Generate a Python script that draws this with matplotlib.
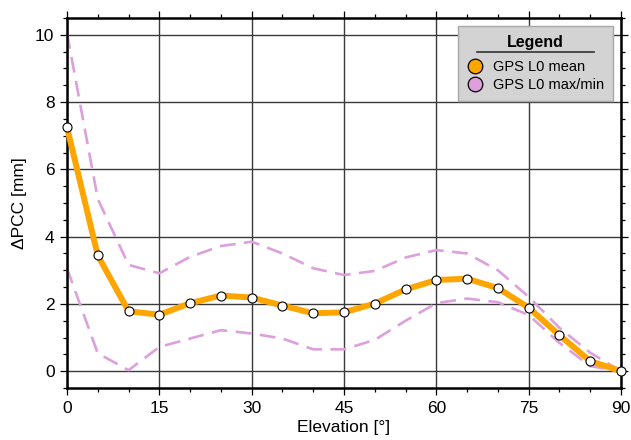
import matplotlib
matplotlib.use("Agg")
import matplotlib.pyplot as plt
from matplotlib.lines import Line2D
from matplotlib.ticker import MultipleLocator

plt.rcParams["font.family"] = ["Liberation Sans", "DejaVu Sans"]

elevation = [0, 5, 10, 15, 20, 25, 30, 35, 40, 45, 50, 55, 60, 65, 70, 75, 80, 85, 90]
pcc_mean = [7.25, 3.44, 1.78, 1.68, 2.02, 2.25, 2.19, 1.95, 1.72, 1.75, 2.01, 2.43, 2.71, 2.75, 2.47, 1.89, 1.07, 0.30, 0.0]
pcc_max = [10.05, 5.12, 3.16, 2.91, 3.40, 3.72, 3.85, 3.50, 3.06, 2.86, 2.98, 3.38, 3.60, 3.50, 3.00, 2.21, 1.29, 0.55, 0.0]
pcc_min = [3.06, 0.53, 0.03, 0.72, 0.97, 1.22, 1.12, 0.97, 0.65, 0.65, 0.93, 1.50, 2.02, 2.16, 2.05, 1.67, 0.84, 0.15, 0.0]

mean_color = "#FFA500"
range_color = "#DDA0DD"

fig = plt.figure(figsize=(6.31, 4.40), dpi=100)
ax = fig.add_axes([67 / 631, 1 - 388 / 440, 554 / 631, 370 / 440])

ax.set_xlim(0, 90)
ax.set_ylim(-0.5, 10.5)
ax.xaxis.set_major_locator(MultipleLocator(15))
ax.xaxis.set_minor_locator(MultipleLocator(5))
ax.yaxis.set_major_locator(MultipleLocator(2))
ax.yaxis.set_minor_locator(MultipleLocator(0.5))

ax.grid(True, which="major", color="#3a3a3a", linewidth=1.0, zorder=0)
ax.set_axisbelow(True)

for side in ax.spines.values():
    side.set_linewidth(1.8)
    side.set_color("black")

ax.tick_params(which="both", direction="out", top=True, right=True,
               labeltop=False, labelright=False, color="black", width=0.9)
ax.tick_params(which="major", length=5, labelsize=12.5, pad=4)
ax.tick_params(which="minor", length=3)

dash = (6, 3.2)
ax.plot(elevation, pcc_max, color=range_color, linewidth=1.9,
        linestyle=(0, dash), zorder=2, clip_on=False)
ax.plot(elevation, pcc_min, color=range_color, linewidth=1.9,
        linestyle=(0, dash), zorder=2, clip_on=False)
ax.plot(elevation, pcc_mean, color=mean_color, linewidth=4.3, zorder=3,
        solid_joinstyle="round", clip_on=False)
ax.plot(elevation, pcc_mean, linestyle="none", marker="o", markersize=6.5,
        markerfacecolor="white", markeredgecolor="black", markeredgewidth=0.8,
        zorder=4, clip_on=False)

ax.set_xlabel("Elevation [°]", fontsize=12.5, labelpad=3)
ax.set_ylabel("ΔPCC [mm]", fontsize=12.5, labelpad=6)

handles = [
    Line2D([], [], linestyle="none", marker="o", markersize=10.5,
           markerfacecolor=mean_color, markeredgecolor="black", markeredgewidth=0.9),
    Line2D([], [], linestyle="none", marker="o", markersize=10.5,
           markerfacecolor=range_color, markeredgecolor="black", markeredgewidth=0.9),
]
leg = ax.legend(handles, ["GPS L0 mean", "GPS L0 max/min"],
                title="Legend", loc="upper right",
                bbox_to_anchor=(1 - 8 / 554, 1 - 8 / 370), borderaxespad=0,
                fontsize=10.5, title_fontproperties={"weight": "bold", "size": 11.5},
                fancybox=False, framealpha=1, facecolor="#d3d3d3",
                edgecolor="#a8a8a8", handletextpad=0.75, borderpad=0.62,
                labelspacing=0.3, handlelength=1.0)
leg.get_frame().set_linewidth(1.0)
leg.set_zorder(6)
# a little extra gap between the title and the entries, leaving room for the rule
leg._legend_box.sep = 7

# rule under the legend title
fig.add_artist(Line2D([477 / 631, 594 / 631], [1 - 52 / 440, 1 - 52 / 440],
                      color="#333333", linewidth=1.2, zorder=7))

fig.savefig("out.png", dpi=100)
